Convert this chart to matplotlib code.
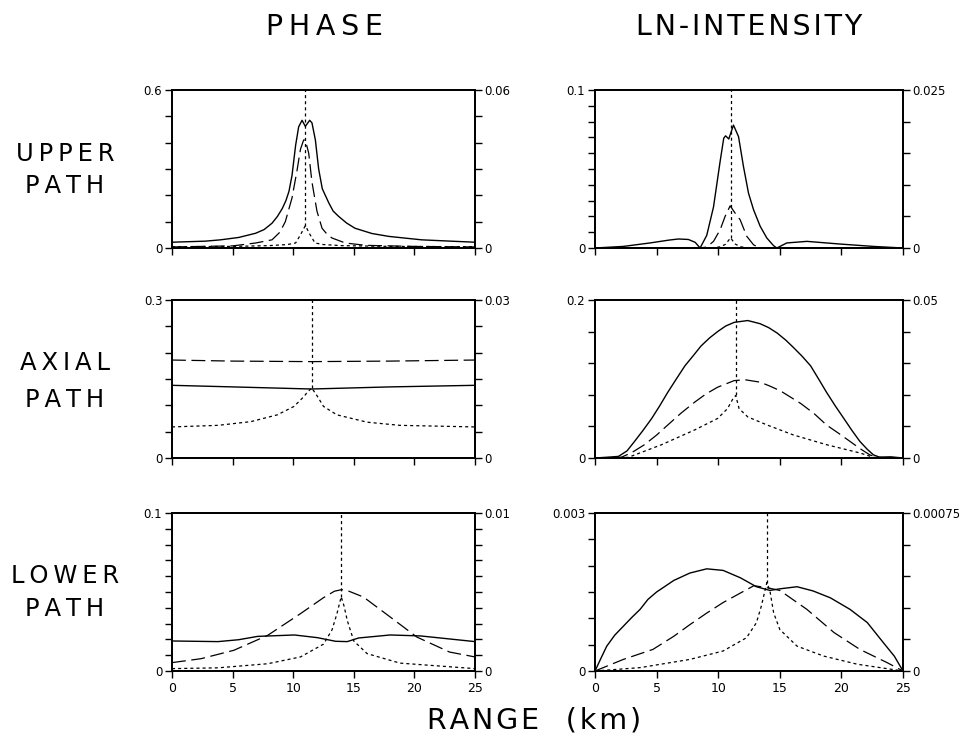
import matplotlib
matplotlib.use("Agg")
import matplotlib.pyplot as plt

plt.rcParams['font.family'] = ['DejaVu Sans']
plt.rcParams['lines.scale_dashes'] = False

# ---------------- UPPER PATH / PHASE ----------------
up_ph_sol_x = [0, 2.75, 4.0, 5.5, 6.9, 7.6, 8.25, 8.7, 9.1, 9.4, 9.65, 9.9, 10.2, 10.45, 10.73, 11.0, 11.36, 11.55, 11.83, 12.1, 12.4, 12.95, 13.3, 13.75, 14.4, 15.1, 16.5, 17.9, 20.6, 23, 25]
up_ph_sol_y = [0.022, 0.026, 0.031, 0.04, 0.056, 0.07, 0.094, 0.12, 0.15, 0.18, 0.215, 0.275, 0.39, 0.46, 0.485, 0.462, 0.485, 0.475, 0.41, 0.30, 0.225, 0.17, 0.14, 0.12, 0.095, 0.075, 0.055, 0.044, 0.031, 0.026, 0.022]
up_ph_dash_x = [0, 5, 6.9, 8.25, 8.9, 9.35, 9.9, 10.3, 10.6, 10.86, 11.0, 11.28, 11.55, 11.96, 12.38, 12.8, 13.2, 14.3, 16, 20, 25]
up_ph_dash_y = [0.004, 0.008, 0.019, 0.031, 0.06, 0.1, 0.19, 0.29, 0.375, 0.41, 0.41, 0.36, 0.25, 0.14, 0.075, 0.052, 0.038, 0.019, 0.01, 0.006, 0.004]
up_ph_dot_x = [0, 5, 8, 9.5, 10.2, 10.6, 11.0, 11.4, 11.8, 12.5, 14, 18, 25]
up_ph_dot_y = [0.0005, 0.0006, 0.0009, 0.0013, 0.0019, 0.005, 0.0085, 0.005, 0.0019, 0.0013, 0.0009, 0.0006, 0.0005]

# ---------------- UPPER PATH / LN-INTENSITY ----------------
up_ln_sol_x = [0, 2.3, 4.47, 6.0, 6.77, 7.58, 8.13, 8.53, 9.07, 9.62, 10.16, 10.45, 10.6, 10.86, 11.24, 11.65, 12.05, 12.46, 12.87, 13.41, 13.95, 14.49, 14.76, 15.57, 17.2, 19.9, 22.6, 25]
up_ln_sol_y = [0, 0.001, 0.0032, 0.005, 0.0057, 0.0054, 0.0036, 0.0, 0.008, 0.026, 0.055, 0.0695, 0.071, 0.069, 0.0778, 0.0705, 0.0516, 0.0347, 0.0242, 0.0137, 0.0063, 0.0015, 0.0, 0.0032, 0.0042, 0.0025, 0.001, 0]
up_ln_dash_x = [0, 8.5, 9.07, 9.62, 10.16, 10.56, 10.97, 11.38, 11.78, 12.32, 12.87, 13.4, 25]
up_ln_dash_y = [0, 0, 0.0006, 0.0042, 0.0116, 0.02, 0.0267, 0.022, 0.0179, 0.0074, 0.002, 0, 0]
up_ln_dot_x = [0, 9.5, 10.2, 10.6, 11.0, 11.4, 11.8, 12.5, 25]
up_ln_dot_y = [0, 0, 0.0002, 0.0006, 0.0016, 0.0006, 0.0002, 0, 0]

# ---------------- AXIAL PATH / PHASE ----------------
ax_ph_sol_x = [0, 5, 11.5, 18, 25]
ax_ph_sol_y = [0.138, 0.135, 0.131, 0.135, 0.138]
ax_ph_dash_x = [0, 5, 11.5, 18, 25]
ax_ph_dash_y = [0.186, 0.184, 0.183, 0.184, 0.186]
ax_ph_dot_x = [0, 3.8, 6.5, 8.7, 10.07, 10.9, 11.17, 11.53, 12.0, 12.5, 13.6, 16.1, 18.8, 25]
ax_ph_dot_y = [0.0059, 0.0062, 0.0069, 0.0082, 0.0098, 0.0117, 0.0125, 0.0133, 0.0117, 0.0098, 0.0082, 0.0068, 0.0062, 0.0059]

# ---------------- AXIAL PATH / LN-INTENSITY ----------------
ax_ln_sol_x = [0, 1, 1.9, 2.6, 3.2, 3.9, 4.6, 5.25, 5.9, 6.6, 7.3, 8.0, 8.6, 9.3, 9.95, 10.6, 11.3, 12.4, 13.4, 14.1, 14.8, 15.5, 16.1, 16.8, 17.5, 18.15, 18.8, 19.5, 20.2, 20.85, 21.5, 22.1, 22.6, 23.1, 24, 25]
ax_ln_sol_y = [0, 0.001, 0.002, 0.009, 0.0208, 0.035, 0.05, 0.066, 0.083, 0.1, 0.1167, 0.13, 0.1417, 0.152, 0.16, 0.167, 0.1717, 0.174, 0.17, 0.165, 0.158, 0.149, 0.14, 0.129, 0.1167, 0.1, 0.083, 0.066, 0.05, 0.035, 0.021, 0.011, 0.004, 0.001, 0.0015, 0]
ax_ln_dash_x = [0, 2.15, 3.0, 4.0, 5.0, 5.9, 7.0, 8.1, 9.0, 9.95, 11.3, 12.2, 13.4, 14.2, 15.05, 16.7, 17.8, 18.8, 19.8, 20.7, 21.5, 22.3, 22.85, 25]
ax_ln_dash_y = [0, 0.001, 0.007, 0.0167, 0.029, 0.0417, 0.057, 0.0708, 0.081, 0.0896, 0.098, 0.099, 0.096, 0.091, 0.085, 0.069, 0.056, 0.0417, 0.031, 0.021, 0.012, 0.004, 0.001, 0]
ax_ln_dot_x = [0, 2.7, 5.4, 8.1, 9.95, 10.75, 11.16, 11.42, 11.7, 12.4, 14.0, 16.1, 18.8, 21.5, 22.6, 25]
ax_ln_dot_y = [0, 0.0002, 0.0042, 0.0089, 0.0125, 0.0156, 0.0185, 0.0198, 0.0156, 0.013, 0.0104, 0.0073, 0.0042, 0.0016, 0.0002, 0]

# ---------------- LOWER PATH / PHASE ----------------
lo_ph_sol_x = [0, 3.8, 5.5, 7.06, 10.1, 12.0, 13.5, 14.46, 15.4, 18.0, 20.5, 25]
lo_ph_sol_y = [0.019, 0.0186, 0.0198, 0.0219, 0.0228, 0.0211, 0.0188, 0.0186, 0.0209, 0.0228, 0.0222, 0.0186]
lo_ph_dash_x = [0, 2.4, 5.1, 7.9, 10.6, 12.5, 13.4, 14.0, 14.6, 15.8, 18.0, 20.2, 22.9, 25]
lo_ph_dash_y = [0.0053, 0.0078, 0.0131, 0.0226, 0.0363, 0.0464, 0.0505, 0.0515, 0.0505, 0.0468, 0.0342, 0.0215, 0.012, 0.0089]
lo_ph_dot_x = [0, 3.8, 7.9, 10.6, 12.5, 13.2, 13.6, 13.96, 14.2, 14.46, 15.0, 16.1, 18.8, 25]
lo_ph_dot_y = [0.00015, 0.0002, 0.00046, 0.00089, 0.0017, 0.0026, 0.0036, 0.0047, 0.0041, 0.0032, 0.0019, 0.0011, 0.0005, 0.00015]

# ---------------- LOWER PATH / LN-INTENSITY ----------------
lo_ln_sol_x = [0, 0.5, 0.95, 1.6, 2.3, 3.0, 3.66, 4.3, 5.0, 6.4, 7.7, 9.07, 10.4, 11.8, 13.1, 14.2, 15.0, 16.4, 17.7, 19.1, 20.7, 22.1, 23.4, 24.3, 25]
lo_ln_sol_y = [0, 0.00025, 0.00047, 0.00068, 0.00085, 0.00102, 0.00117, 0.00136, 0.0015, 0.00172, 0.00186, 0.00194, 0.00191, 0.00177, 0.0016, 0.00153, 0.00156, 0.0016, 0.00152, 0.00139, 0.00117, 0.00092, 0.00054, 0.00028, 0]
lo_ln_dash_x = [0, 2.3, 4.7, 6.4, 7.7, 9.07, 10.4, 11.8, 12.9, 14.0, 15.0, 17.2, 19.4, 21.5, 23.7, 25]
lo_ln_dash_y = [0, 0.00022, 0.00041, 0.00066, 0.00088, 0.0011, 0.0013, 0.00148, 0.00162, 0.00158, 0.00153, 0.00117, 0.00073, 0.00041, 0.00016, 0]
lo_ln_dot_x = [0, 3.66, 7.7, 10.4, 12.3, 13.1, 13.5, 13.95, 14.2, 14.5, 15.0, 16.4, 18.55, 21.3, 25]
lo_ln_dot_y = [0, 0.000016, 0.000055, 0.000095, 0.000158, 0.000229, 0.000308, 0.00042, 0.00038, 0.000276, 0.000197, 0.000118, 0.000071, 0.000032, 0]

# axis scales: (left max, left intervals, right max, right intervals, labels)
scales = {
    (0, 0): (0.6, 6, 0.06, 6, "0.6", "0.06"),
    (0, 1): (0.1, 10, 0.025, 5, "0.1", "0.025"),
    (1, 0): (0.3, 6, 0.03, 6, "0.3", "0.03"),
    (1, 1): (0.2, 5, 0.05, 5, "0.2", "0.05"),
    (2, 0): (0.1, 10, 0.01, 10, "0.1", "0.01"),
    (2, 1): (0.003, 6, 0.00075, 5, "0.003", "0.00075"),
}
series = {
    (0, 0): (up_ph_sol_x, up_ph_sol_y, up_ph_dash_x, up_ph_dash_y, up_ph_dot_x, up_ph_dot_y),
    (0, 1): (up_ln_sol_x, up_ln_sol_y, up_ln_dash_x, up_ln_dash_y, up_ln_dot_x, up_ln_dot_y),
    (1, 0): (ax_ph_sol_x, ax_ph_sol_y, ax_ph_dash_x, ax_ph_dash_y, ax_ph_dot_x, ax_ph_dot_y),
    (1, 1): (ax_ln_sol_x, ax_ln_sol_y, ax_ln_dash_x, ax_ln_dash_y, ax_ln_dot_x, ax_ln_dot_y),
    (2, 0): (lo_ph_sol_x, lo_ph_sol_y, lo_ph_dash_x, lo_ph_dash_y, lo_ph_dot_x, lo_ph_dot_y),
    (2, 1): (lo_ln_sol_x, lo_ln_sol_y, lo_ln_dash_x, lo_ln_dash_y, lo_ln_dot_x, lo_ln_dot_y),
}
x_ticks = [0, 5, 10, 15, 20, 25]
col_titles = ["PHASE", "LN-INTENSITY"]
row_titles = [("UPPER", "PATH"), ("AXIAL", "PATH"), ("LOWER", "PATH")]
x_label = "RANGE  (km)"

W, H = 973, 741
fig = plt.figure(figsize=(W / 100, H / 100), dpi=100)

col_px = [(172, 303), (595, 308)]
row_px = [90, 300, 513]
ph = 158
DOT = (0, (2.2, 2.2))
DASH = (0, (10, 4))

for (r, c), (sx, sy, dx, dy, tx, ty) in series.items():
    x0, w = col_px[c]
    y0 = row_px[r]
    ax = fig.add_axes([x0 / W, (H - y0 - ph) / H, w / W, ph / H])
    lmax, ln, rmax, rn, llab, rlab = scales[(r, c)]
    ax.plot(sx, sy, color='black', lw=1.0, ls='-')
    ax.plot(dx, dy, color='black', lw=0.9, ls=DASH)
    ax.set_xlim(0, 25)
    ax.set_ylim(0, lmax)

    ax2 = ax.twinx()
    ax2.plot(tx, ty, color='black', lw=0.9, ls=DOT)
    # singular point of the dotted series: vertical line from its cusp upward
    k = max(range(len(ty)), key=lambda i: ty[i])
    ax2.plot([tx[k], tx[k]], [ty[k], rmax], color='black', lw=0.9, ls=DOT)
    ax2.set_ylim(0, rmax)
    ax2.set_xlim(0, 25)

    lt = [lmax * i / ln for i in range(ln + 1)]
    rt = [rmax * i / rn for i in range(rn + 1)]
    ax.set_yticks(lt)
    ax.set_yticklabels(["0"] + [""] * (ln - 1) + [llab])
    ax2.set_yticks(rt)
    ax2.set_yticklabels(["0"] + [""] * (rn - 1) + [rlab])

    ax.set_xticks(x_ticks)
    if r == 2:
        ax.set_xticklabels([str(t) for t in x_ticks])
    else:
        ax.set_xticklabels([])

    ax.tick_params(axis='both', direction='out', length=5, width=1.0, labelsize=8.5, pad=2, colors='black')
    ax.tick_params(axis='y', left=True, right=False)
    ax.tick_params(axis='x', bottom=True, top=False, pad=3, labelsize=9)
    ax2.tick_params(axis='y', direction='out', length=5, width=1.0, labelsize=8.5, pad=2, right=True, left=False)
    for a in (ax, ax2):
        for sp in a.spines.values():
            sp.set_linewidth(1.3)

# column titles
fig.text(324 / W, 1 - 27 / H, "\u2009".join(col_titles[0]), ha='center', va='center', fontsize=20.5)
fig.text(749 / W, 1 - 27 / H, "\u200a".join(col_titles[1]), ha='center', va='center', fontsize=20.5)

# row titles
row_y = [(154, 186), (363, 400), (576, 609)]
for (t1, t2), (y1, y2) in zip(row_titles, row_y):
    fig.text(65 / W, 1 - y1 / H, "\u2009".join(t1), ha='center', va='center', fontsize=17.5)
    fig.text(65 / W, 1 - y2 / H, "\u2009".join(t2), ha='center', va='center', fontsize=17.5)

fig.text(534 / W, 1 - 721 / H, "\u200a".join(x_label), ha='center', va='center', fontsize=20.5)

fig.savefig("out.png", dpi=100)
